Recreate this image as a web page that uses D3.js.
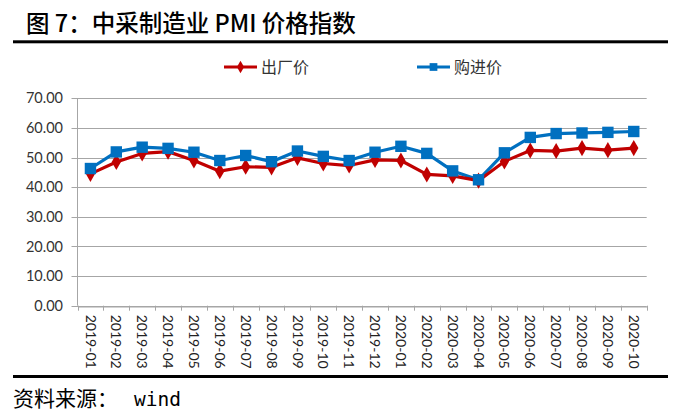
<!DOCTYPE html>
<html><head><meta charset="utf-8">
<script src="https://cdn.jsdelivr.net/npm/d3@7/dist/d3.min.js"></script>
<style>
html,body{margin:0;padding:0;background:#fff;}
svg{display:block;}
</style></head>
<body>
<svg id="chart" width="686" height="416"></svg>
<script>
const categories = ["2019-01","2019-02","2019-03","2019-04","2019-05","2019-06","2019-07","2019-08","2019-09","2019-10","2019-11","2019-12","2020-01","2020-02","2020-03","2020-04","2020-05","2020-06","2020-07","2020-08","2020-09","2020-10"];
const outputPrice = [44.5,48.5,51.4,52.0,49.0,45.4,46.9,46.7,49.9,48.0,47.3,49.2,49.0,44.3,43.8,42.2,48.7,52.4,52.2,53.2,52.5,53.2];
const inputPrice  = [46.3,51.9,53.5,53.1,51.8,49.0,50.7,48.6,52.2,50.4,49.0,51.8,53.8,51.4,45.5,42.5,51.6,56.8,58.1,58.3,58.5,58.8];
const yTicks = [0,10,20,30,40,50,60,70];
const seriesNames = ["出厂价","购进价"];
const titleText = "图 7：中采制造业 PMI 价格指数";
const sourceCn = "资料来源：";
const sourceEn = "wind";

const svg = d3.select("#chart");
const L = 77.5, R = 646.7, T = 98.3, B = 305.7;
const x = d3.scaleBand().domain(categories).range([L, R]);
const y = d3.scaleLinear().domain([0, 70]).range([B, T]);

// title
svg.append("text").attr("x", 26).attr("y", 32)
  .attr("font-family", "'Noto Sans CJK SC', sans-serif").attr("font-weight", 500)
  .attr("font-size", 23.5).attr("fill", "#000").text(titleText);
svg.append("rect").attr("x", 13).attr("y", 40.3).attr("width", 655).attr("height", 3).attr("fill", "#000");

// grid
const grid = svg.append("g");
grid.selectAll("line").data(yTicks).join("line")
  .attr("x1", L - 6).attr("x2", R).attr("y1", d => Math.round(y(d)) + 0.5).attr("y2", d => Math.round(y(d)) + 0.5)
  .attr("stroke", "#a6a6a6").attr("stroke-width", 1);

// y axis line
svg.append("line").attr("x1", L).attr("x2", L).attr("y1", T).attr("y2", B).attr("stroke", "#a6a6a6");

// y labels
svg.append("g").selectAll("text").data(yTicks).join("text")
  .attr("x", 63).attr("y", d => y(d)).attr("dy", "0.35em").attr("text-anchor", "end")
  .attr("font-family", "Lato, 'Open Sans', sans-serif").attr("font-size", 14.5).attr("fill", "#333")
  .text(d => d3.format(".2f")(d));

// x axis
const xAxis = d3.axisBottom(x).tickSizeOuter(0).tickSize(0).tickFormat("");
const gx = svg.append("g").attr("transform", `translate(0,${Math.round(B)+0.5})`).call(xAxis);
gx.select(".domain").attr("stroke", "#a6a6a6");
// band boundary ticks
const bounds = categories.map(c => x(c)).concat([R]);
svg.append("g").selectAll("line").data(bounds).join("line")
  .attr("x1", d => Math.round(d) + 0.5).attr("x2", d => Math.round(d) + 0.5)
  .attr("y1", B).attr("y2", B + 5).attr("stroke", "#a6a6a6");
// x labels rotated
svg.append("g").selectAll("text").data(categories).join("text")
  .attr("transform", d => `translate(${x(d) + x.bandwidth()/2},${B + 9}) rotate(90)`)
  .attr("dy", "0.35em").attr("text-anchor", "start")
  .attr("font-family", "Lato, 'Open Sans', sans-serif").attr("font-size", 14).attr("fill", "#222")
  .text(d => d);

const line = d3.line().x((d, i) => x(categories[i]) + x.bandwidth()/2).y(d => y(d));
const red = "#c00000", blue = "#0070c0";

// input price (blue)
svg.append("path").datum(inputPrice).attr("d", line).attr("fill", "none").attr("stroke", blue).attr("stroke-width", 3.2).attr("stroke-linejoin", "round");
// output price (red)
svg.append("path").datum(outputPrice).attr("d", line).attr("fill", "none").attr("stroke", red).attr("stroke-width", 3.2).attr("stroke-linejoin", "round");

const sq = d3.symbol().type(d3.symbolSquare).size(130);
const dia = d3.symbol().type(d3.symbolDiamond).size(75);
svg.append("g").selectAll("path").data(outputPrice).join("path")
  .attr("transform", (d, i) => `translate(${x(categories[i]) + x.bandwidth()/2},${y(d)})`)
  .attr("d", dia).attr("fill", red);
svg.append("g").selectAll("path").data(inputPrice).join("path")
  .attr("transform", (d, i) => `translate(${x(categories[i]) + x.bandwidth()/2},${y(d)})`)
  .attr("d", sq).attr("fill", blue);

// legend
const lg = [{name: seriesNames[0], color: red, x0: 224}, {name: seriesNames[1], color: blue, x0: 417}];
const lgG = svg.append("g").selectAll("g").data(lg).join("g");
lgG.append("line").attr("x1", d => d.x0).attr("x2", d => d.x0 + 33).attr("y1", 67).attr("y2", 67)
  .attr("stroke", d => d.color).attr("stroke-width", 3);
lgG.append("path").attr("transform", d => `translate(${d.x0 + 16.5},67)`)
  .attr("d", (d, i) => i === 0 ? d3.symbol().type(d3.symbolDiamond).size(45)() : d3.symbol().type(d3.symbolSquare).size(60)())
  .attr("fill", d => d.color);
lgG.append("text").attr("x", d => d.x0 + 37).attr("y", 67).attr("dy", "0.36em")
  .attr("font-family", "'Noto Sans CJK SC', sans-serif").attr("font-size", 16).attr("fill", "#333")
  .text(d => d.name);

// bottom line and source
svg.append("rect").attr("x", 13).attr("y", 375).attr("width", 655).attr("height", 3).attr("fill", "#000");
const src = svg.append("text").attr("x", 13).attr("y", 406)
  .attr("font-family", "'Noto Sans CJK SC', sans-serif").attr("font-size", 21).attr("fill", "#000");
src.append("tspan").text(sourceCn);
src.append("tspan").attr("font-family", "'DejaVu Sans Mono', monospace").attr("font-size", 19.5).attr("dx", 16).text(sourceEn);
</script>
</body></html>
